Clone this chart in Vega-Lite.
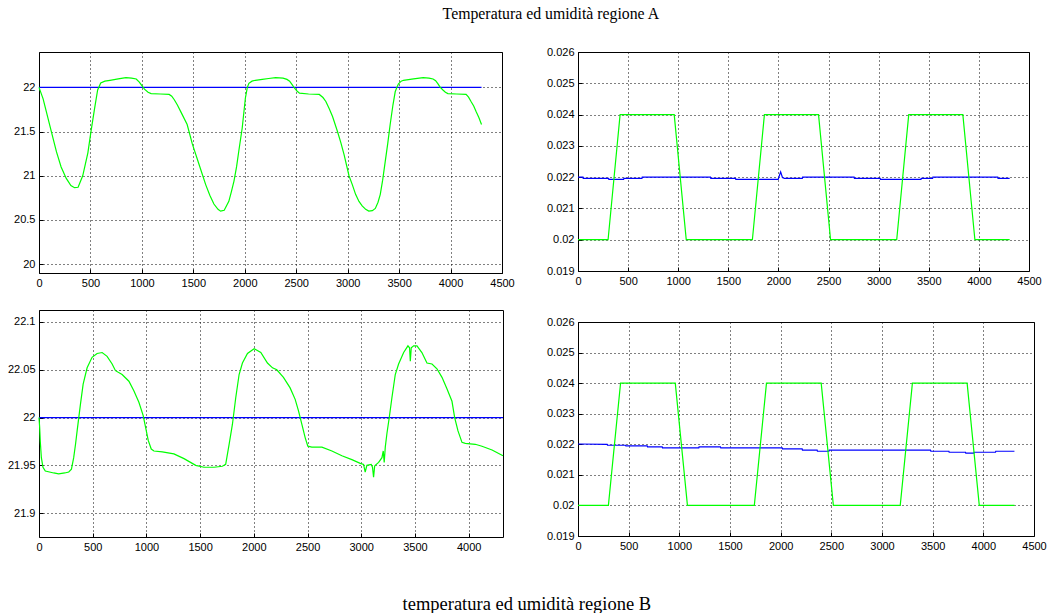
{
  "$schema": "https://vega.github.io/schema/vega-lite/v6.json",
  "background": "white",
  "padding": {"left": 6, "top": 5, "right": 5, "bottom": 5},
  "title": {"text": "temperatura ed umidità regione B", "orient": "bottom", "font": "Liberation Serif", "fontSize": 18.5, "fontWeight": "normal", "color": "black", "offset": 42, "anchor": "middle"},
  "datasets": {
    "tempA": [
      {"t":0,"v":22.0},{"t":40,"v":21.87},{"t":70,"v":21.73},{"t":120,"v":21.5},{"t":170,"v":21.27},{"t":215,"v":21.1},{"t":265,"v":20.97},{"t":310,"v":20.89},{"t":345,"v":20.865},{"t":380,"v":20.87},{"t":425,"v":21.0},{"t":475,"v":21.26},{"t":505,"v":21.5},{"t":540,"v":21.76},{"t":570,"v":21.97},{"t":600,"v":22.05},{"t":640,"v":22.07},{"t":690,"v":22.08},{"t":770,"v":22.095},{"t":845,"v":22.11},{"t":900,"v":22.105},{"t":945,"v":22.095},{"t":975,"v":22.06},{"t":1000,"v":22.02},{"t":1025,"v":21.98},{"t":1060,"v":21.945},{"t":1090,"v":21.93},{"t":1180,"v":21.925},{"t":1265,"v":21.92},{"t":1290,"v":21.9},{"t":1315,"v":21.86},{"t":1345,"v":21.8},{"t":1380,"v":21.72},{"t":1440,"v":21.58},{"t":1490,"v":21.36},{"t":1555,"v":21.13},{"t":1620,"v":20.9},{"t":1660,"v":20.78},{"t":1700,"v":20.68},{"t":1740,"v":20.62},{"t":1765,"v":20.6},{"t":1800,"v":20.61},{"t":1845,"v":20.71},{"t":1870,"v":20.82},{"t":1895,"v":20.94},{"t":1920,"v":21.1},{"t":1942,"v":21.28},{"t":1975,"v":21.54},{"t":2006,"v":21.88},{"t":2025,"v":22.0},{"t":2040,"v":22.045},{"t":2070,"v":22.07},{"t":2103,"v":22.08},{"t":2170,"v":22.09},{"t":2232,"v":22.1},{"t":2300,"v":22.11},{"t":2372,"v":22.105},{"t":2410,"v":22.09},{"t":2436,"v":22.07},{"t":2460,"v":22.03},{"t":2484,"v":21.99},{"t":2510,"v":21.955},{"t":2532,"v":21.935},{"t":2620,"v":21.925},{"t":2724,"v":21.92},{"t":2760,"v":21.885},{"t":2788,"v":21.84},{"t":2820,"v":21.76},{"t":2853,"v":21.67},{"t":2901,"v":21.5},{"t":2935,"v":21.37},{"t":2965,"v":21.24},{"t":3013,"v":21.0},{"t":3045,"v":20.9},{"t":3077,"v":20.79},{"t":3110,"v":20.71},{"t":3141,"v":20.66},{"t":3175,"v":20.62},{"t":3205,"v":20.6},{"t":3240,"v":20.605},{"t":3269,"v":20.63},{"t":3295,"v":20.7},{"t":3317,"v":20.79},{"t":3340,"v":20.95},{"t":3365,"v":21.16},{"t":3390,"v":21.37},{"t":3413,"v":21.58},{"t":3440,"v":21.8},{"t":3462,"v":21.95},{"t":3478,"v":22.0},{"t":3494,"v":22.04},{"t":3520,"v":22.07},{"t":3542,"v":22.08},{"t":3640,"v":22.095},{"t":3734,"v":22.11},{"t":3790,"v":22.105},{"t":3830,"v":22.095},{"t":3855,"v":22.075},{"t":3878,"v":22.04},{"t":3900,"v":22.0},{"t":3926,"v":21.97},{"t":3950,"v":21.945},{"t":3974,"v":21.93},{"t":4060,"v":21.925},{"t":4151,"v":21.92},{"t":4175,"v":21.89},{"t":4199,"v":21.84},{"t":4225,"v":21.79},{"t":4247,"v":21.73},{"t":4275,"v":21.66},{"t":4301,"v":21.58}
    ],
    "refA": [{"t":0,"v":22.0},{"t":4301,"v":22.0}],
    "tempB": [
      {"t":0,"v":22.0},{"t":6,"v":21.99},{"t":12,"v":21.975},{"t":22,"v":21.958},{"t":37,"v":21.948},{"t":59,"v":21.944},{"t":137,"v":21.942},{"t":183,"v":21.941},{"t":240,"v":21.942},{"t":277,"v":21.943},{"t":302,"v":21.946},{"t":323,"v":21.958},{"t":340,"v":21.972},{"t":355,"v":21.986},{"t":386,"v":22.014},{"t":411,"v":22.035},{"t":448,"v":22.052},{"t":494,"v":22.063},{"t":541,"v":22.067},{"t":588,"v":22.068},{"t":634,"v":22.064},{"t":681,"v":22.056},{"t":712,"v":22.049},{"t":774,"v":22.045},{"t":837,"v":22.038},{"t":883,"v":22.028},{"t":930,"v":22.016},{"t":970,"v":22.002},{"t":992,"v":21.99},{"t":1017,"v":21.976},{"t":1045,"v":21.967},{"t":1070,"v":21.965},{"t":1148,"v":21.964},{"t":1256,"v":21.962},{"t":1350,"v":21.957},{"t":1459,"v":21.95},{"t":1536,"v":21.948},{"t":1630,"v":21.948},{"t":1707,"v":21.949},{"t":1738,"v":21.951},{"t":1770,"v":21.972},{"t":1801,"v":21.993},{"t":1832,"v":22.021},{"t":1863,"v":22.045},{"t":1894,"v":22.057},{"t":1941,"v":22.067},{"t":2003,"v":22.072},{"t":2065,"v":22.068},{"t":2127,"v":22.057},{"t":2174,"v":22.052},{"t":2214,"v":22.05},{"t":2276,"v":22.042},{"t":2338,"v":22.031},{"t":2385,"v":22.019},{"t":2416,"v":22.007},{"t":2447,"v":21.993},{"t":2478,"v":21.979},{"t":2503,"v":21.97},{"t":2540,"v":21.969},{"t":2634,"v":21.969},{"t":2727,"v":21.965},{"t":2820,"v":21.96},{"t":2913,"v":21.956},{"t":2991,"v":21.952},{"t":3022,"v":21.951},{"t":3037,"v":21.943},{"t":3053,"v":21.95},{"t":3093,"v":21.951},{"t":3105,"v":21.948},{"t":3115,"v":21.9375},{"t":3125,"v":21.949},{"t":3130,"v":21.95},{"t":3162,"v":21.953},{"t":3193,"v":21.958},{"t":3205,"v":21.965},{"t":3214,"v":21.953},{"t":3224,"v":21.969},{"t":3239,"v":21.983},{"t":3261,"v":22.0},{"t":3286,"v":22.021},{"t":3317,"v":22.045},{"t":3348,"v":22.056},{"t":3395,"v":22.068},{"t":3435,"v":22.075},{"t":3450,"v":22.073},{"t":3457,"v":22.059},{"t":3466,"v":22.073},{"t":3488,"v":22.075},{"t":3519,"v":22.075},{"t":3565,"v":22.068},{"t":3612,"v":22.057},{"t":3659,"v":22.056},{"t":3705,"v":22.051},{"t":3752,"v":22.042},{"t":3798,"v":22.03},{"t":3845,"v":22.017},{"t":3870,"v":22.0},{"t":3901,"v":21.986},{"t":3938,"v":21.974},{"t":3969,"v":21.973},{"t":4062,"v":21.972},{"t":4124,"v":21.97},{"t":4218,"v":21.966},{"t":4320,"v":21.96}
    ],
    "refB": [{"t":0,"v":22.0},{"t":4320,"v":22.0}],
    "humRef": [
      {"t":0,"v":0.02},{"t":300,"v":0.02},{"t":420,"v":0.024},{"t":960,"v":0.024},{"t":1080,"v":0.02},{"t":1740,"v":0.02},{"t":1860,"v":0.024},{"t":2400,"v":0.024},{"t":2520,"v":0.02},{"t":3180,"v":0.02},{"t":3300,"v":0.024},{"t":3840,"v":0.024},{"t":3960,"v":0.02},{"t":4307,"v":0.02}
    ],
    "humA": [
      {"t":0,"v":0.022},{"t":50,"v":0.022},{"t":52,"v":0.021958},{"t":305,"v":0.021958},{"t":308,"v":0.021926},{"t":455,"v":0.021926},{"t":458,"v":0.021958},{"t":638,"v":0.021958},{"t":641,"v":0.022},{"t":1322,"v":0.022},{"t":1325,"v":0.021958},{"t":1572,"v":0.021958},{"t":1575,"v":0.021926},{"t":1997,"v":0.021926},{"t":2022,"v":0.02217},{"t":2040,"v":0.02199},{"t":2060,"v":0.021958},{"t":2238,"v":0.021958},{"t":2241,"v":0.022},{"t":2755,"v":0.022},{"t":2758,"v":0.021958},{"t":3015,"v":0.021958},{"t":3018,"v":0.021926},{"t":3422,"v":0.021926},{"t":3425,"v":0.021958},{"t":3538,"v":0.021958},{"t":3541,"v":0.022},{"t":4188,"v":0.022},{"t":4191,"v":0.021958},{"t":4307,"v":0.021958}
    ],
    "humB": [
      {"t":0,"v":0.02201},{"t":288,"v":0.022},{"t":291,"v":0.021968},{"t":469,"v":0.021968},{"t":472,"v":0.021947},{"t":683,"v":0.021947},{"t":686,"v":0.021914},{"t":831,"v":0.021914},{"t":834,"v":0.021882},{"t":1192,"v":0.021882},{"t":1195,"v":0.021914},{"t":1406,"v":0.021914},{"t":1409,"v":0.021882},{"t":2015,"v":0.021882},{"t":2018,"v":0.021849},{"t":2212,"v":0.021849},{"t":2215,"v":0.021806},{"t":2360,"v":0.021806},{"t":2363,"v":0.021773},{"t":2476,"v":0.021773},{"t":2479,"v":0.021806},{"t":3479,"v":0.021806},{"t":3482,"v":0.021773},{"t":3660,"v":0.021773},{"t":3663,"v":0.02174},{"t":3824,"v":0.02174},{"t":3827,"v":0.021708},{"t":3906,"v":0.021708},{"t":3909,"v":0.02174},{"t":4120,"v":0.02174},{"t":4123,"v":0.021773},{"t":4307,"v":0.021773}
    ]
  },
  "vconcat": [
    {
      "title": {"text": "Temperatura ed umidità regione A", "font": "Liberation Serif", "fontSize": 15.8, "fontWeight": "normal", "color": "black", "offset": 23, "anchor": "middle", "dx": 24},
      "spacing": 30,
      "hconcat": [
        {
          "spacing": 37,
          "bounds": "flush",
          "vconcat": [
            {
              "width": 463, "height": 221,
              "encoding": {
                "x": {"field": "t", "type": "quantitative", "title": null, "scale": {"domain": [0, 4500], "nice": false, "zero": false}, "axis": {"values": [0,500,1000,1500,2000,2500,3000,3500,4000,4500]}},
                "y": {"field": "v", "type": "quantitative", "title": null, "scale": {"domain": [19.9, 22.4], "nice": false, "zero": false}, "axis": {"values": [20,20.5,21,21.5,22]}}
              },
              "layer": [
                {"data": {"name": "refA"}, "mark": {"type": "line", "color": "#0000ff", "strokeWidth": 1.2}},
                {"data": {"name": "tempA"}, "mark": {"type": "line", "color": "#00ff00", "strokeWidth": 1.2}}
              ]
            },
            {
              "width": 464, "height": 227,
              "encoding": {
                "x": {"field": "t", "type": "quantitative", "title": null, "scale": {"domain": [0, 4320], "nice": false, "zero": false}, "axis": {"values": [0,500,1000,1500,2000,2500,3000,3500,4000]}},
                "y": {"field": "v", "type": "quantitative", "title": null, "scale": {"domain": [21.875, 22.1125], "nice": false, "zero": false}, "axis": {"values": [21.9,21.95,22,22.05,22.1]}}
              },
              "layer": [
                {"data": {"name": "refB"}, "mark": {"type": "line", "color": "#0000ff", "strokeWidth": 1.2}},
                {"data": {"name": "tempB"}, "mark": {"type": "line", "color": "#00ff00", "strokeWidth": 1.2}}
              ]
            }
          ]
        },
        {
          "spacing": 51,
          "bounds": "flush",
          "vconcat": [
            {
              "width": 451, "height": 219,
              "encoding": {
                "x": {"field": "t", "type": "quantitative", "title": null, "scale": {"domain": [0, 4500], "nice": false, "zero": false}, "axis": {"values": [0,500,1000,1500,2000,2500,3000,3500,4000,4500]}},
                "y": {"field": "v", "type": "quantitative", "title": null, "scale": {"domain": [0.019, 0.026], "nice": false, "zero": false}, "axis": {"values": [0.019,0.02,0.021,0.022,0.023,0.024,0.025,0.026]}}
              },
              "layer": [
                {"data": {"name": "humA"}, "mark": {"type": "line", "color": "#0000ff", "strokeWidth": 1.2}},
                {"data": {"name": "humRef"}, "mark": {"type": "line", "color": "#00ff00", "strokeWidth": 1.2}}
              ]
            },
            {
              "width": 456, "height": 214,
              "encoding": {
                "x": {"field": "t", "type": "quantitative", "title": null, "scale": {"domain": [0, 4500], "nice": false, "zero": false}, "axis": {"values": [0,500,1000,1500,2000,2500,3000,3500,4000,4500]}},
                "y": {"field": "v", "type": "quantitative", "title": null, "scale": {"domain": [0.019, 0.026], "nice": false, "zero": false}, "axis": {"values": [0.019,0.02,0.021,0.022,0.023,0.024,0.025,0.026]}}
              },
              "layer": [
                {"data": {"name": "humB"}, "mark": {"type": "line", "color": "#0000ff", "strokeWidth": 1.2}},
                {"data": {"name": "humRef"}, "mark": {"type": "line", "color": "#00ff00", "strokeWidth": 1.2}}
              ]
            }
          ]
        }
      ]
    }
  ],
  "config": {
    "view": {"stroke": "black", "strokeWidth": 1},
    "axis": {
      "grid": true, "gridColor": "black", "gridDash": [1, 3], "gridOpacity": 1, "gridWidth": 1,
      "domain": false, "ticks": true, "tickColor": "black", "tickSize": -4, "tickWidth": 1,
      "labelFont": "Liberation Sans", "labelFontSize": 11, "labelColor": "black", "labelPadding": 8,
      "labelFlush": false, "labelOverlap": false, "format": "~g"
    },
    "axisX": {"format": "d"}
  }
}
